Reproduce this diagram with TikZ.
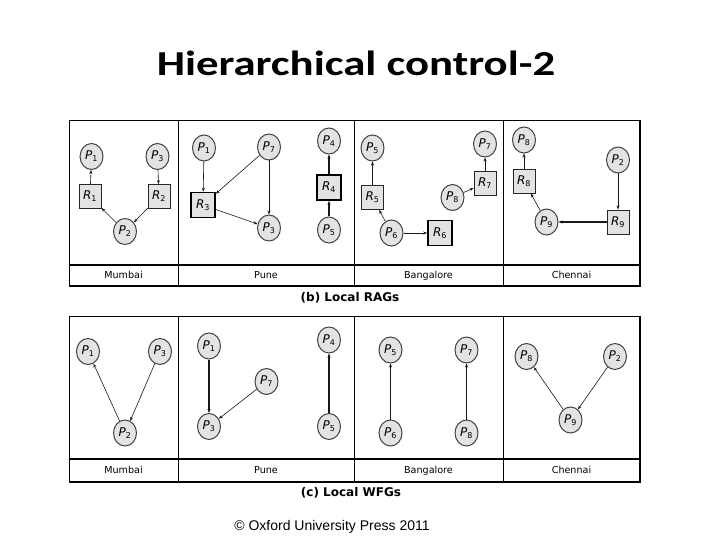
\documentclass[tikz,border=0pt]{standalone}
\usepackage{fontspec}
\usepackage{graphicx}
\setmainfont{Carlito}
\newfontfamily\labelfont{DejaVu Sans}
\newfontfamily\footfont{Liberation Sans}
\usetikzlibrary{shapes.geometric,arrows.meta}

\newcommand{\pid}[1]{\textit{P}\textsubscript{#1}}
\newcommand{\rid}[1]{\textit{R}\textsubscript{#1}}

\begin{document}
\begin{tikzpicture}[x=1pt,y=-1pt,
proc/.style={ellipse, draw=gray!50!black, line width=1pt, fill=gray!22, minimum width=23pt, minimum height=26pt, inner sep=0pt, font=\labelfont\fontsize{12}{14}\selectfont},
res/.style={rectangle, draw=gray!30!black, line width=0.9pt, fill=gray!22, minimum width=22pt, minimum height=24pt, inner sep=0pt, font=\labelfont\fontsize{12}{14}\selectfont},
heavyres/.style={res, draw=black, line width=1.6pt, minimum width=24pt, minimum height=25pt},
edge/.style={-{Stealth[length=4pt,width=3pt]}, gray!20!black, line width=0.6pt},
heavyedge/.style={edge, line width=1.3pt},
region/.style={font=\labelfont\fontsize{9.6}{12}\selectfont, text height=1.5ex, text depth=0.3ex},
caption/.style={font=\labelfont\bfseries\fontsize{12}{14}\selectfont},
]
\useasboundingbox (0,0) rectangle (720,540);
\fill[white] (0,0) rectangle (720,540);

%Title and footer
\node (title) at (356,63) {\scalebox{1.28}[1]{\fontsize{35}{40}\selectfont\bfseries Hierarchical control-2}};
\node (footer) at (332,527) {\footfont\fontsize{14}{16}\selectfont \textcopyright{} Oxford University Press 2011};

%Frames
\draw[line width=0.6pt] (69,120) rectangle (640,286);
\draw[line width=1.4pt] (69,265) -- (640,265);
\draw[line width=1.4pt] (640,120) -- (640,286) -- (69,286);
\foreach \x in {178,354,503} \draw[line width=0.6pt] (\x,120) -- (\x,286);
\draw[line width=0.6pt] (69,316) rectangle (640,482);
\draw[line width=1.4pt] (69,459) -- (640,459);
\draw[line width=1.4pt] (640,316) -- (640,482) -- (69,482);
\foreach \x in {178,354,503} \draw[line width=0.6pt] (\x,316) -- (\x,482);

%Region names and captions
\node[region] (mumbaiB) at (123.5,275.5) {Mumbai};
\node[region] (puneB)   at (266,275.5)   {Pune};
\node[region] (bangB)   at (428.5,275.5) {Bangalore};
\node[region] (chenB)   at (571.5,275.5) {Chennai};
\node[caption] (capB)   at (350,298)     {(b) Local RAGs};
\node[region] (mumbaiC) at (123.5,470.5) {Mumbai};
\node[region] (puneC)   at (266,470.5)   {Pune};
\node[region] (bangC)   at (428.5,470.5) {Bangalore};
\node[region] (chenC)   at (571.5,470.5) {Chennai};
\node[caption] (capC)   at (351,493)     {(c) Local WFGs};

%Local RAGs - Mumbai
\node[proc] (mP1) at (91.5,156.5) {\pid{1}};
\node[proc] (mP3) at (157.5,156.5) {\pid{3}};
\node[res]  (mR1) at (90,196.5) {\rid{1}};
\node[res]  (mR2) at (159,196.5) {\rid{2}};
\node[proc] (mP2) at (125,231.5) {\pid{2}};
\draw[edge] (mR1) -- (mP1);
\draw[edge] (mP3) -- (mR2);
\draw[edge] (mP2) -- (mR1);
\draw[edge] (mR2) -- (mP2);

%Local RAGs - Pune
\node[proc] (pP1) at (204,148) {\pid{1}};
\node[proc] (pP7) at (269,147) {\pid{7}};
\node[heavyres] (pR3) at (203,205) {\rid{3}};
\node[proc] (pP3) at (269,228) {\pid{3}};
\node[proc] (pP4) at (329,141) {\pid{4}};
\node[heavyres] (pR4) at (329,187.5) {\rid{4}};
\node[proc] (pP5) at (329,230) {\pid{5}};
\draw[edge] (pP1) -- (pR3);
\draw[edge] (pP7) -- (pR3);
\draw[edge] (pP7) -- (pP3);
\draw[edge] (pR3) -- (pP3);
\draw[heavyedge] (pR4) -- (pP4);
\draw[heavyedge] (pP5) -- (pR4);

%Local RAGs - Bangalore
\node[proc] (bP5) at (372.5,148) {\pid{5}};
\node[res]  (bR5) at (372.5,197.5) {\rid{5}};
\node[proc] (bP6) at (391.5,233) {\pid{6}};
\node[heavyres] (bR6) at (440,233) {\rid{6}};
\node[proc] (bP8) at (452.5,197.5) {\pid{8}};
\node[res]  (bR7) at (485,183) {\rid{7}};
\node[proc] (bP7) at (485,144) {\pid{7}};
\draw[edge] (bR5) -- (bP5);
\draw[edge] (bP6) -- (bR5);
\draw[edge] (bP6) -- (bR6);
\draw[edge] (bP8) -- (bR7);
\draw[edge] (bR7) -- (bP7);

%Local RAGs - Chennai
\node[proc] (cP8) at (524,140) {\pid{8}};
\node[res]  (cR8) at (524,181) {\rid{8}};
\node[proc] (cP2) at (618,160) {\pid{2}};
\node[res]  (cR9) at (618,222) {\rid{9}};
\node[proc] (cP9) at (546.5,222) {\pid{9}};
\draw[edge] (cR8) -- (cP8);
\draw[edge] (cP9) -- (cR8);
\draw[edge] (cP2) -- (cR9);
\draw[heavyedge] (cR9) -- (cP9);

%Local WFGs - Mumbai
\node[proc] (wmP1) at (88,351.5) {\pid{1}};
\node[proc] (wmP3) at (160,351.5) {\pid{3}};
\node[proc] (wmP2) at (125,433) {\pid{2}};
\draw[edge] (wmP2) -- (wmP1);
\draw[edge] (wmP3) -- (wmP2);

%Local WFGs - Pune
\node[proc] (wpP1) at (209,346) {\pid{1}};
\node[proc] (wpP3) at (209,426.5) {\pid{3}};
\node[proc] (wpP7) at (266.5,381.5) {\pid{7}};
\node[proc] (wpP4) at (329,340) {\pid{4}};
\node[proc] (wpP5) at (329,426.5) {\pid{5}};
\draw[heavyedge] (wpP1) -- (wpP3);
\draw[edge] (wpP7) -- (wpP3);
\draw[heavyedge] (wpP5) -- (wpP4);

%Local WFGs - Bangalore
\node[proc] (wbP5) at (390.5,350) {\pid{5}};
\node[proc] (wbP6) at (390.5,433) {\pid{6}};
\node[proc] (wbP7) at (466.5,350) {\pid{7}};
\node[proc] (wbP8) at (466.5,433) {\pid{8}};
\draw[heavyedge] (wbP6) -- (wbP5);
\draw[edge] (wbP8) -- (wbP7);

%Local WFGs - Chennai
\node[proc] (wcP8) at (526.5,356.5) {\pid{8}};
\node[proc] (wcP2) at (615,356.5) {\pid{2}};
\node[proc] (wcP9) at (570.5,420) {\pid{9}};
\draw[edge] (wcP9) -- (wcP8);
\draw[edge] (wcP2) -- (wcP9);
\end{tikzpicture}
\end{document}
